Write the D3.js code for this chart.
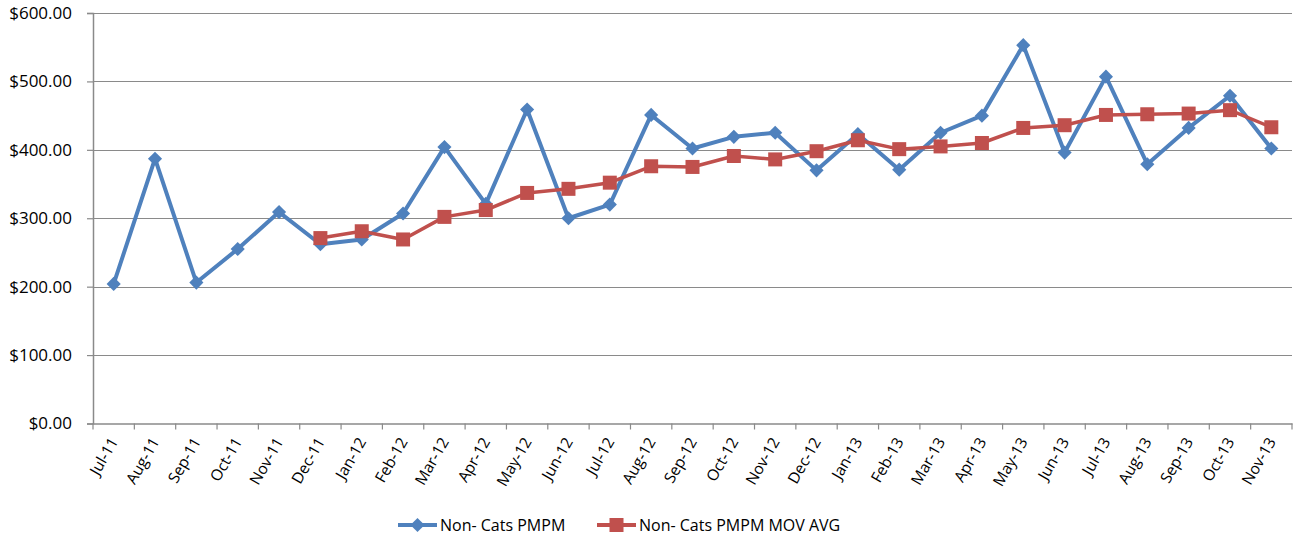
<!DOCTYPE html>
<html>
<head>
<meta charset="utf-8">
<script src="https://unpkg.com/d3@7/dist/d3.min.js"></script>
<style>
  body { margin: 0; background: #fff; }
  svg { display: block; font-family: "Open Sans", sans-serif; }
</style>
</head>
<body>
<script>
// data
const months = [
  "Jul-11", "Aug-11", "Sep-11", "Oct-11", "Nov-11", "Dec-11",
  "Jan-12", "Feb-12", "Mar-12", "Apr-12", "May-12", "Jun-12",
  "Jul-12", "Aug-12", "Sep-12", "Oct-12", "Nov-12", "Dec-12",
  "Jan-13", "Feb-13", "Mar-13", "Apr-13", "May-13", "Jun-13",
  "Jul-13", "Aug-13", "Sep-13", "Oct-13", "Nov-13"
];
const pmpm = [
  204, 387, 206, 255, 309, 262,
  269, 307, 404, 321, 459, 300,
  320, 451, 402, 419, 425, 370,
  423, 371, 425, 450, 553, 396,
  507, 379, 432, 479, 402
];
// moving average starts at Dec-11
const movAvg = [
  null, null, null, null, null, 271,
  281, 269, 302, 312, 337, 343,
  352, 376, 375, 391, 386, 398,
  414, 401, 405, 410, 432, 436,
  451, 452, 453, 458, 433
];
const yTicks = [0, 100, 200, 300, 400, 500, 600];
const seriesNames = ["Non- Cats PMPM", "Non- Cats PMPM MOV AVG"];

// layout
const width = 1294;
const height = 535;
const margin = { top: 13, right: 2, bottom: 112, left: 93 };
const blue = "#4F81BD";
const red = "#C0504D";
const gridColor = "#8a8a8a";

const svg = d3.select("body").append("svg")
  .attr("width", width)
  .attr("height", height);

const x = d3.scaleBand()
  .domain(months)
  .range([margin.left, width - margin.right]);

const y = d3.scaleLinear()
  .domain([0, 600])
  .range([height - margin.bottom + 0.5, margin.top]);

// gridlines
svg.append("g")
  .selectAll("line")
  .data(yTicks.filter((d) => d > 0))
  .enter()
  .append("line")
  .attr("x1", margin.left)
  .attr("x2", width - margin.right)
  .attr("y1", (d) => Math.round(y(d)) + 0.5)
  .attr("y2", (d) => Math.round(y(d)) + 0.5)
  .attr("stroke", gridColor)
  .attr("stroke-width", 1.2);

// y axis
const yAxis = svg.append("g")
  .attr("transform", `translate(${margin.left},0)`)
  .call(d3.axisLeft(y).tickValues(yTicks).tickSize(6).tickPadding(15)
    .tickFormat((d) => "$" + d3.format(".2f")(d)));
yAxis.select(".domain").attr("stroke", gridColor).attr("stroke-width", 1.5);
yAxis.selectAll(".tick line").attr("stroke", gridColor).attr("stroke-width", 1.2);
yAxis.selectAll(".tick text")
  .attr("fill", "#000")
  .style("font-size", "17px")
  .style("font-family", "'Open Sans', sans-serif");

// x axis
const xAxis = svg.append("g")
  .attr("transform", `translate(0,${y(0)})`)
  .call(d3.axisBottom(x).tickSize(0).tickFormat(""));
xAxis.select(".domain").attr("stroke", gridColor).attr("stroke-width", 1.5);

// tick marks at band edges
svg.append("g")
  .selectAll("line")
  .data(months.concat(["end"]))
  .enter()
  .append("line")
  .attr("x1", (d, i) => margin.left + i * x.bandwidth())
  .attr("x2", (d, i) => margin.left + i * x.bandwidth())
  .attr("y1", y(0))
  .attr("y2", y(0) + 6)
  .attr("stroke", gridColor)
  .attr("stroke-width", 1.2);

// rotated month labels
svg.append("g")
  .selectAll("text")
  .data(months)
  .enter()
  .append("text")
  .attr("transform", (d) =>
    `translate(${x(d) + x.bandwidth() / 2 + 5},${y(0) + 18}) rotate(-60)`)
  .attr("text-anchor", "end")
  .style("font-size", "15.5px")
  .text((d) => d);

// lines
const cx = (i) => x(months[i]) + x.bandwidth() / 2;

const line = d3.line()
  .defined((d) => d != null)
  .x((d, i) => cx(i))
  .y((d) => y(d));

svg.append("path")
  .datum(pmpm)
  .attr("fill", "none")
  .attr("stroke", blue)
  .attr("stroke-width", 4)
  .attr("stroke-linejoin", "round")
  .attr("d", line);

svg.append("path")
  .datum(movAvg)
  .attr("fill", "none")
  .attr("stroke", red)
  .attr("stroke-width", 3.5)
  .attr("stroke-linejoin", "round")
  .attr("d", line);

// markers
const diamond = d3.symbol().type(d3.symbolSquare).size(100);

svg.append("g")
  .selectAll("path")
  .data(pmpm)
  .enter()
  .append("path")
  .attr("d", diamond)
  .attr("transform", (d, i) => `translate(${cx(i)},${y(d)}) rotate(45)`)
  .attr("fill", blue);

svg.append("g")
  .selectAll("rect")
  .data(movAvg.map((v, i) => ({ v, i })).filter((d) => d.v != null))
  .enter()
  .append("rect")
  .attr("x", (d) => cx(d.i) - 7)
  .attr("y", (d) => y(d.v) - 7)
  .attr("width", 14)
  .attr("height", 14)
  .attr("fill", red);

// legend
const legendY = 525;
const legendItems = [
  { name: seriesNames[0], color: blue, x: 398, marker: "diamond" },
  { name: seriesNames[1], color: red, x: 597, marker: "square" }
];

const legend = svg.append("g");
legendItems.forEach((item) => {
  legend.append("line")
    .attr("x1", item.x)
    .attr("x2", item.x + 39)
    .attr("y1", legendY)
    .attr("y2", legendY)
    .attr("stroke", item.color)
    .attr("stroke-width", 4);
  if (item.marker === "diamond") {
    legend.append("path")
      .attr("d", diamond)
      .attr("transform", `translate(${item.x + 19.5},${legendY}) rotate(45)`)
      .attr("fill", item.color);
  } else {
    legend.append("rect")
      .attr("x", item.x + 12.5)
      .attr("y", legendY - 7)
      .attr("width", 14)
      .attr("height", 14)
      .attr("fill", item.color);
  }
  legend.append("text")
    .attr("x", item.x + 42)
    .attr("y", legendY)
    .attr("dy", "0.35em")
    .style("font-size", "16px")
    .text(item.name);
});
</script>
</body>
</html>
